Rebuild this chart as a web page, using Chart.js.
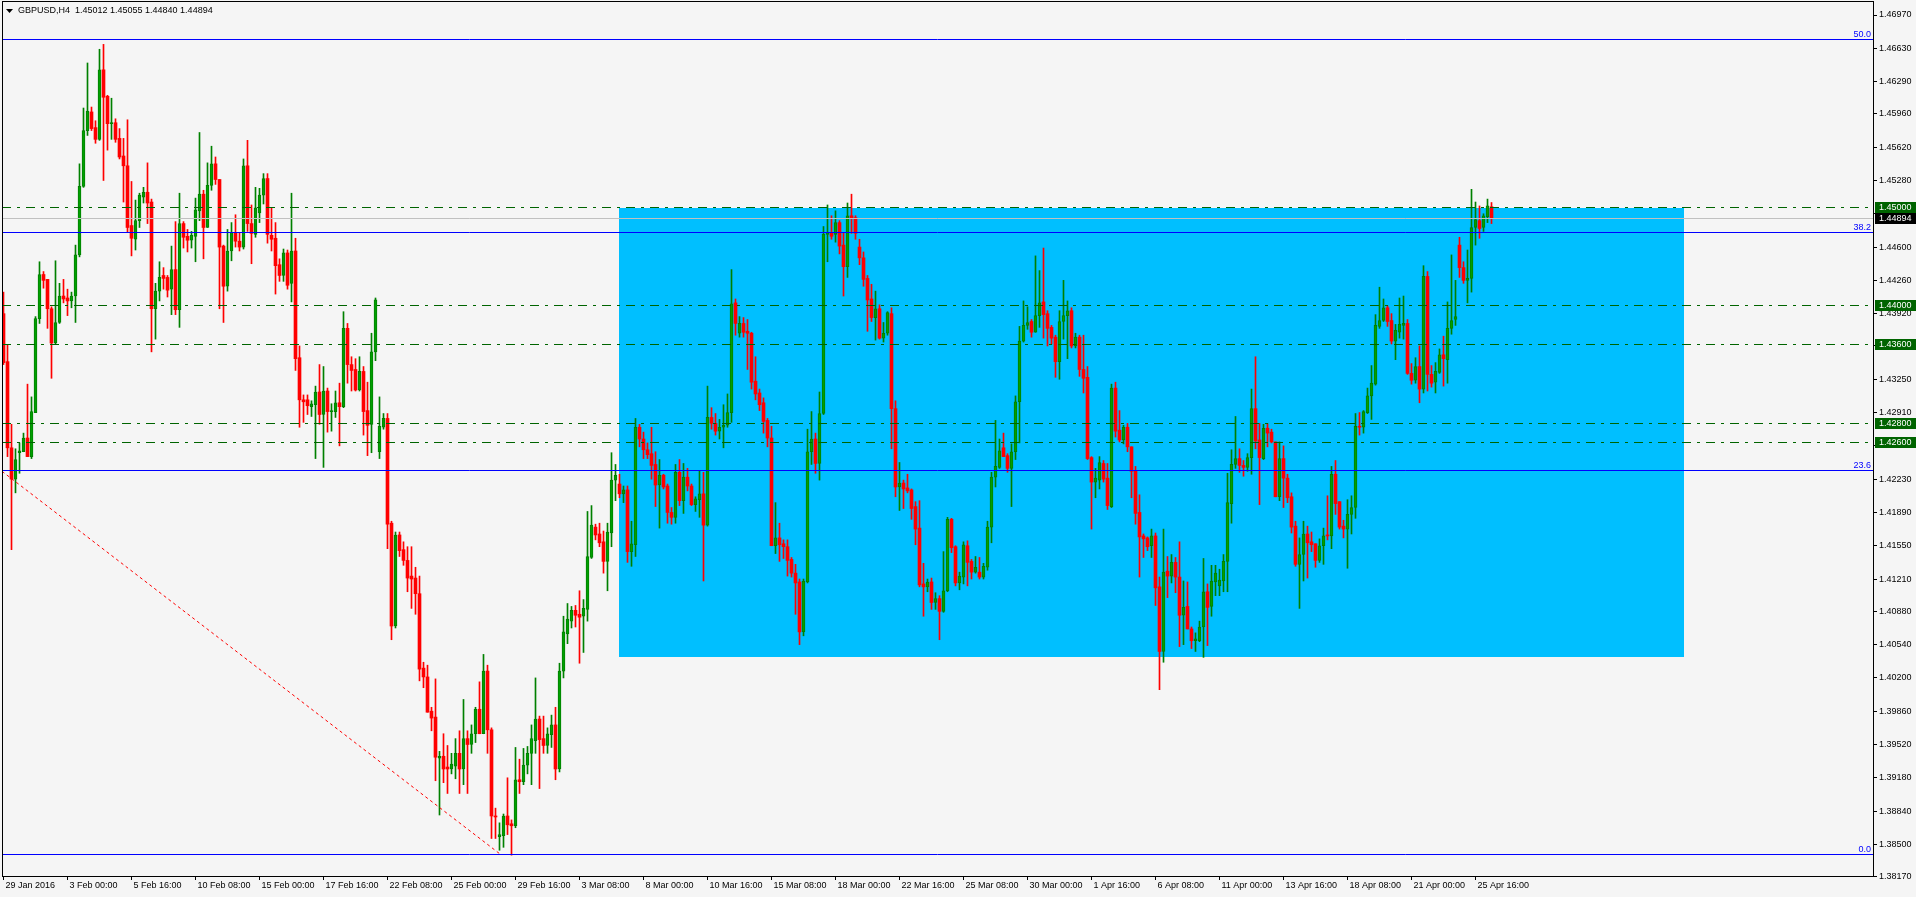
<!DOCTYPE html>
<html><head><meta charset="utf-8">
<script src="https://cdn.jsdelivr.net/npm/chart.js@4.4.1/dist/chart.umd.min.js"></script>
<style>html,body{margin:0;padding:0;background:#f5f5f5;overflow:hidden}canvas{display:block}</style>
</head><body>
<canvas id="c" width="1916" height="897" style="width:1916px;height:897px"></canvas>
<script>
const symbolTitle = 'GBPUSD,H4';
const opens = [
1.4392,1.4343,1.4255,1.4223,1.4250,1.4251,1.4265,1.4246,1.4291,1.4387,
1.4432,1.4427,1.4397,1.4362,1.4383,1.4410,1.4408,1.4405,1.4410,1.4452,
1.4522,1.4579,1.4598,1.4582,1.4570,1.4641,1.4614,1.4586,1.4587,1.4571,
1.4553,1.4543,1.4482,1.4468,1.4487,1.4511,1.4516,1.4506,1.4397,1.4415,
1.4431,1.4429,1.4417,1.4437,1.4396,1.4484,1.4471,1.4467,1.4471,1.4497,
1.4514,1.4480,1.4523,1.4545,1.4529,1.4461,1.4420,1.4456,1.4475,1.4466,
1.4460,1.4543,1.4484,1.4473,1.4495,1.4513,1.4530,1.4472,1.4469,1.4442,
1.4431,1.4454,1.4423,1.4456,1.4347,1.4304,1.4304,1.4297,1.4299,1.4312,
1.4289,1.4313,1.4292,1.4292,1.4301,1.4297,1.4377,1.4340,1.4335,1.4314,
1.4333,1.4293,1.4279,1.4353,1.4251,1.4276,1.4285,1.4178,1.4073,1.4166,
1.4151,1.4140,1.4124,1.4122,1.4106,1.4030,1.4021,1.3986,1.3980,1.3938,
1.3940,1.3929,1.3927,1.3930,1.3943,1.3927,1.3958,1.3952,1.3963,1.3988,
1.3963,1.4027,1.3967,1.3879,1.3858,1.3859,1.3879,1.3871,1.3869,1.3916,
1.3914,1.3931,1.3943,1.3956,1.3978,1.3958,1.3951,1.3962,1.3972,1.3927,
1.4027,1.4065,1.4078,1.4089,1.4085,1.4083,1.4090,1.4143,1.4174,1.4167,
1.4159,1.4139,1.4168,1.4222,1.4218,1.4208,1.4212,1.4149,1.4156,1.4276,
1.4264,1.4253,1.4249,1.4238,1.4217,1.4227,1.4216,1.4189,1.4184,1.4230,
1.4201,1.4225,1.4216,1.4197,1.4202,1.4208,1.4176,1.4286,1.4280,1.4272,
1.4276,1.4278,1.4291,1.4403,1.4372,1.4382,1.4374,1.4372,1.4323,1.4311,
1.4301,1.4283,1.4265,1.4155,1.4163,1.4157,1.4154,1.4141,1.4127,1.4118,
1.4067,1.4118,1.4251,1.4264,1.4239,1.4290,1.4473,1.4474,1.4473,1.4485,
1.4462,1.4440,1.4492,1.4490,1.4460,1.4449,1.4428,1.4407,1.4388,1.4397,
1.4367,1.4372,1.4392,1.4295,1.4215,1.4219,1.4214,1.4212,1.4195,1.4173,
1.4116,1.4113,1.4118,1.4097,1.4101,1.4088,1.4109,1.4182,1.4154,1.4117,
1.4123,1.4155,1.4139,1.4128,1.4128,1.4123,1.4133,1.4174,1.4225,1.4235,
1.4255,1.4247,1.4234,1.4251,1.4302,1.4364,1.4380,1.4384,1.4373,1.4390,
1.4404,1.4392,1.4378,1.4368,1.4343,1.4384,1.4390,1.4395,1.4359,1.4368,
1.4335,1.4327,1.4245,1.4220,1.4222,1.4239,1.4224,1.4195,1.4316,1.4273,
1.4263,1.4276,1.4256,1.4232,1.4189,1.4165,1.4163,1.4155,1.4165,1.4113,
1.4047,1.4129,1.4124,1.4138,1.4123,1.4084,1.4093,1.4070,1.4058,1.4058,
1.4072,1.4108,1.4093,1.4118,1.4114,1.4119,1.4139,1.4198,1.4238,1.4244,
1.4237,1.4235,1.4245,1.4295,1.4263,1.4244,1.4275,1.4271,1.4261,1.4205,
1.4244,1.4224,1.4205,1.4175,1.4136,1.4146,1.4167,1.4159,1.4157,1.4140,
1.4155,1.4166,1.4165,1.4228,1.4200,1.4175,1.4172,1.4187,1.4194,1.4277,
1.4276,1.4291,1.4308,1.4320,1.4379,1.4385,1.4398,1.4385,1.4364,1.4373,
1.4380,1.4382,1.4331,1.4324,1.4338,1.4315,1.4430,1.4330,1.4322,1.4332,
1.4350,1.4345,1.4377,1.4386,1.4462,1.4439,1.4426,1.4428,1.4480,1.4487,
1.4480,1.4491,1.45012];
const highs = [
1.4414,1.4360,1.4279,1.4254,1.4260,1.4270,1.4320,1.4307,1.4389,1.4445,
1.4435,1.4427,1.4399,1.4446,1.4423,1.4427,1.4417,1.4414,1.4462,1.4545,
1.4602,1.4648,1.4603,1.4589,1.4662,1.4667,1.4615,1.4612,1.4591,1.4581,
1.4571,1.4590,1.4527,1.4508,1.4515,1.4521,1.4546,1.4509,1.4423,1.4445,
1.4439,1.4431,1.4461,1.4486,1.4515,1.4486,1.4478,1.4476,1.4510,1.4577,
1.4518,1.4546,1.4563,1.4552,1.4529,1.4462,1.4478,1.4485,1.4493,1.4475,
1.4550,1.4569,1.4503,1.4521,1.4520,1.4535,1.4535,1.4500,1.4485,1.4448,
1.4458,1.4457,1.4515,1.4469,1.4359,1.4309,1.4309,1.4303,1.4318,1.4340,
1.4338,1.4316,1.4300,1.4313,1.4321,1.4394,1.4382,1.4348,1.4346,1.4348,
1.4338,1.4322,1.4372,1.4408,1.4307,1.4290,1.4290,1.4180,1.4169,1.4169,
1.4159,1.4154,1.4154,1.4133,1.4124,1.4036,1.4033,1.3990,1.4019,1.3945,
1.3963,1.3951,1.3943,1.3958,1.3966,1.3998,1.3966,1.3972,1.3990,1.4016,
1.4044,1.4033,1.3969,1.3887,1.3872,1.3881,1.3918,1.3875,1.3949,1.3937,
1.3948,1.3950,1.3972,1.4020,1.3981,1.3981,1.3969,1.3982,1.3990,1.4035,
1.4083,1.4096,1.4093,1.4094,1.4109,1.4100,1.4190,1.4196,1.4177,1.4178,
1.4170,1.4178,1.4250,1.4238,1.4228,1.4216,1.4216,1.4180,1.4285,1.4279,
1.4271,1.4260,1.4276,1.4251,1.4243,1.4228,1.4218,1.4194,1.4238,1.4243,
1.4239,1.4234,1.4218,1.4205,1.4232,1.4230,1.4318,1.4296,1.4290,1.4284,
1.4299,1.4310,1.4437,1.4407,1.4389,1.4388,1.4386,1.4373,1.4348,1.4315,
1.4306,1.4285,1.4277,1.4199,1.4178,1.4161,1.4161,1.4143,1.4136,1.4121,
1.4121,1.4274,1.4292,1.4270,1.4312,1.4481,1.4503,1.4492,1.4497,1.4487,
1.4474,1.4505,1.4514,1.4492,1.4468,1.4455,1.4431,1.4422,1.4415,1.4401,
1.4383,1.4394,1.4398,1.4303,1.4240,1.4222,1.4228,1.4213,1.4200,1.4201,
1.4137,1.4121,1.4122,1.4107,1.4104,1.4149,1.4184,1.4183,1.4155,1.4128,
1.4159,1.4160,1.4141,1.4144,1.4143,1.4137,1.4180,1.4230,1.4283,1.4264,
1.4270,1.4249,1.4259,1.4308,1.4379,1.4405,1.4399,1.4386,1.4451,1.4436,
1.4459,1.4395,1.4380,1.4370,1.4395,1.4426,1.4405,1.4398,1.4372,1.4370,
1.4370,1.4338,1.4246,1.4234,1.4246,1.4242,1.4239,1.4320,1.4322,1.4293,
1.4278,1.4280,1.4256,1.4236,1.4207,1.4167,1.4164,1.4172,1.4168,1.4123,
1.4172,1.4144,1.4146,1.4143,1.4159,1.4119,1.4118,1.4072,1.4066,1.4078,
1.4142,1.4116,1.4135,1.4135,1.4131,1.4146,1.4229,1.4253,1.4287,1.4254,
1.4242,1.4249,1.4315,1.4348,1.4280,1.4279,1.4280,1.4274,1.4261,1.4261,
1.4257,1.4228,1.4209,1.4180,1.4163,1.4180,1.4175,1.4169,1.4157,1.4162,
1.4173,1.4206,1.4236,1.4242,1.4200,1.4181,1.4202,1.4206,1.4290,1.4291,
1.4293,1.4316,1.4339,1.4391,1.4419,1.4407,1.4400,1.4392,1.4381,1.4408,
1.4410,1.4386,1.4341,1.4347,1.4359,1.4441,1.4435,1.4339,1.4342,1.4356,
1.4369,1.4404,1.4452,1.4426,1.4470,1.4445,1.4457,1.4519,1.4506,1.4502,
1.4494,1.4509,1.45055];
const lows = [
1.4340,1.4246,1.4151,1.4209,1.4229,1.4251,1.4246,1.4244,1.4291,1.4382,
1.4418,1.4377,1.4326,1.4361,1.4382,1.4403,1.4390,1.4398,1.4383,1.4450,
1.4521,1.4574,1.4579,1.4566,1.4569,1.4528,1.4559,1.4570,1.4567,1.4550,
1.4506,1.4475,1.4451,1.4457,1.4480,1.4505,1.4484,1.4353,1.4366,1.4405,
1.4417,1.4409,1.4391,1.4391,1.4378,1.4459,1.4455,1.4459,1.4445,1.4487,
1.4448,1.4480,1.4518,1.4524,1.4397,1.4383,1.4415,1.4446,1.4460,1.4456,
1.4458,1.4476,1.4443,1.4470,1.4485,1.4504,1.4464,1.4456,1.4412,1.4425,
1.4425,1.4417,1.4404,1.4334,1.4276,1.4281,1.4289,1.4287,1.4244,1.4279,
1.4235,1.4271,1.4272,1.4286,1.4257,1.4296,1.4321,1.4313,1.4313,1.4313,
1.4268,1.4247,1.4250,1.4344,1.4244,1.4274,1.4152,1.4059,1.4071,1.4144,
1.4135,1.4108,1.4091,1.4085,1.4017,1.4010,1.3985,1.3966,1.3915,1.3880,
1.3913,1.3902,1.3922,1.3917,1.3902,1.3911,1.3902,1.3943,1.3954,1.3963,
1.3963,1.3943,1.3856,1.3856,1.3844,1.3847,1.3860,1.3839,1.3867,1.3902,
1.3911,1.3922,1.3911,1.3943,1.3907,1.3943,1.3943,1.3949,1.3916,1.3924,
1.4020,1.4055,1.4071,1.4072,1.4035,1.4046,1.4078,1.4142,1.4161,1.4154,
1.4127,1.4109,1.4154,1.4201,1.4204,1.4199,1.4138,1.4134,1.4144,1.4256,
1.4244,1.4244,1.4223,1.4195,1.4173,1.4213,1.4178,1.4177,1.4178,1.4196,
1.4188,1.4211,1.4196,1.4190,1.4184,1.4119,1.4175,1.4274,1.4268,1.4264,
1.4255,1.4276,1.4281,1.4370,1.4368,1.4368,1.4335,1.4315,1.4304,1.4293,
1.4270,1.4256,1.4155,1.4147,1.4139,1.4142,1.4124,1.4123,1.4085,1.4054,
1.4063,1.4117,1.4238,1.4229,1.4222,1.4289,1.4445,1.4468,1.4465,1.4453,
1.4410,1.4429,1.4474,1.4468,1.4442,1.4420,1.4374,1.4384,1.4365,1.4366,
1.4363,1.4370,1.4254,1.4205,1.4191,1.4193,1.4209,1.4182,1.4156,1.4113,
1.4083,1.4108,1.4090,1.4090,1.4059,1.4087,1.4108,1.4148,1.4114,1.4110,
1.4116,1.4114,1.4121,1.4127,1.4121,1.4121,1.4130,1.4158,1.4215,1.4234,
1.4246,1.4230,1.4195,1.4243,1.4260,1.4363,1.4376,1.4368,1.4373,1.4378,
1.4367,1.4359,1.4361,1.4327,1.4325,1.4366,1.4346,1.4357,1.4357,1.4328,
1.4311,1.4243,1.4172,1.4204,1.4213,1.4220,1.4192,1.4194,1.4266,1.4261,
1.4259,1.4251,1.4204,1.4177,1.4123,1.4143,1.4150,1.4143,1.4094,1.4008,
1.4036,1.4102,1.4117,1.4107,1.4052,1.4054,1.4070,1.4050,1.4047,1.4057,
1.4041,1.4053,1.4083,1.4104,1.4104,1.4108,1.4108,1.4178,1.4234,1.4230,
1.4226,1.4231,1.4228,1.4254,1.4197,1.4243,1.4256,1.4260,1.4205,1.4201,
1.4194,1.4199,1.4168,1.4134,1.4091,1.4119,1.4122,1.4149,1.4133,1.4138,
1.4136,1.4161,1.4152,1.4187,1.4172,1.4163,1.4132,1.4167,1.4183,1.4268,
1.4270,1.4290,1.4284,1.4319,1.4377,1.4384,1.4379,1.4361,1.4345,1.4367,
1.4366,1.4330,1.4320,1.4321,1.4301,1.4311,1.4313,1.4317,1.4311,1.4331,
1.4318,1.4321,1.4371,1.4380,1.4429,1.4423,1.4403,1.4414,1.4462,1.4469,
1.4476,1.4485,1.44840];
const closes = [
1.4342,1.4255,1.4223,1.4243,1.4252,1.4265,1.4246,1.4292,1.4387,1.4432,
1.4426,1.4397,1.4362,1.4383,1.4410,1.4407,1.4405,1.4410,1.4452,1.4522,
1.4579,1.4599,1.4581,1.4570,1.4641,1.4613,1.4586,1.4587,1.4570,1.4552,
1.4543,1.4480,1.4469,1.4487,1.4513,1.4516,1.4505,1.4397,1.4415,1.4429,
1.4428,1.4416,1.4437,1.4396,1.4484,1.4470,1.4467,1.4472,1.4498,1.4514,
1.4480,1.4523,1.4545,1.4529,1.4460,1.4420,1.4456,1.4475,1.4466,1.4460,
1.4543,1.4484,1.4474,1.4500,1.4513,1.4530,1.4473,1.4468,1.4441,1.4431,
1.4454,1.4421,1.4456,1.4346,1.4304,1.4302,1.4298,1.4300,1.4312,1.4289,
1.4313,1.4292,1.4293,1.4301,1.4297,1.4377,1.4340,1.4334,1.4314,1.4333,
1.4292,1.4278,1.4353,1.4406,1.4277,1.4285,1.4177,1.4073,1.4166,1.4150,
1.4140,1.4122,1.4121,1.4106,1.4029,1.4021,1.3985,1.3979,1.3939,1.3940,
1.3927,1.3927,1.3932,1.3943,1.3927,1.3958,1.3952,1.3963,1.3988,1.3963,
1.4027,1.3967,1.3879,1.3878,1.3860,1.3879,1.3870,1.3869,1.3916,1.3914,
1.3931,1.3943,1.3958,1.3978,1.3957,1.3951,1.3963,1.3972,1.3927,1.4027,
1.4067,1.4080,1.4089,1.4084,1.4082,1.4091,1.4144,1.4176,1.4166,1.4158,
1.4139,1.4169,1.4222,1.4227,1.4208,1.4212,1.4149,1.4157,1.4276,1.4264,
1.4253,1.4248,1.4237,1.4217,1.4227,1.4215,1.4189,1.4184,1.4230,1.4201,
1.4225,1.4216,1.4197,1.4203,1.4208,1.4176,1.4286,1.4280,1.4272,1.4276,
1.4278,1.4291,1.4402,1.4382,1.4382,1.4373,1.4372,1.4322,1.4310,1.4299,
1.4282,1.4265,1.4155,1.4163,1.4156,1.4154,1.4140,1.4127,1.4117,1.4067,
1.4119,1.4251,1.4264,1.4239,1.4290,1.4473,1.4474,1.4471,1.4485,1.4461,
1.4440,1.4492,1.4489,1.4474,1.4449,1.4427,1.4406,1.4388,1.4397,1.4367,
1.4372,1.4393,1.4295,1.4215,1.4219,1.4213,1.4211,1.4193,1.4172,1.4115,
1.4113,1.4118,1.4097,1.4101,1.4088,1.4109,1.4182,1.4153,1.4117,1.4124,
1.4156,1.4138,1.4128,1.4133,1.4123,1.4134,1.4174,1.4225,1.4236,1.4252,
1.4246,1.4234,1.4251,1.4302,1.4364,1.4380,1.4383,1.4373,1.4390,1.4403,
1.4391,1.4377,1.4367,1.4343,1.4384,1.4390,1.4395,1.4359,1.4368,1.4335,
1.4326,1.4244,1.4220,1.4224,1.4240,1.4223,1.4196,1.4316,1.4272,1.4263,
1.4276,1.4256,1.4231,1.4188,1.4164,1.4162,1.4154,1.4165,1.4112,1.4047,
1.4128,1.4124,1.4138,1.4123,1.4084,1.4092,1.4070,1.4058,1.4060,1.4072,
1.4108,1.4092,1.4119,1.4127,1.4120,1.4139,1.4199,1.4238,1.4244,1.4237,
1.4235,1.4245,1.4295,1.4262,1.4245,1.4275,1.4270,1.4261,1.4205,1.4244,
1.4224,1.4204,1.4174,1.4136,1.4146,1.4167,1.4158,1.4156,1.4140,1.4155,
1.4165,1.4165,1.4228,1.4198,1.4174,1.4172,1.4187,1.4194,1.4277,1.4276,
1.4292,1.4308,1.4321,1.4380,1.4385,1.4398,1.4384,1.4364,1.4375,1.4381,
1.4382,1.4331,1.4324,1.4338,1.4315,1.4430,1.4330,1.4321,1.4333,1.4350,
1.4346,1.4377,1.4385,1.4389,1.4439,1.4426,1.4428,1.4480,1.4488,1.4479,
1.4492,1.4502,1.44894];

const xTickBars = [0,16,32,48,64,80,96,112,128,144,160,176,192,208,224,240,256,272,288,304,320,336,352,368];
const xTickLabels = ['29 Jan 2016','3 Feb 00:00','5 Feb 16:00','10 Feb 08:00','15 Feb 00:00','17 Feb 16:00',
  '22 Feb 08:00','25 Feb 00:00','29 Feb 16:00','3 Mar 08:00','8 Mar 00:00','10 Mar 16:00','15 Mar 08:00',
  '18 Mar 00:00','22 Mar 16:00','25 Mar 08:00','30 Mar 00:00','1 Apr 16:00','6 Apr 08:00','11 Apr 00:00',
  '13 Apr 16:00','18 Apr 08:00','21 Apr 00:00','25 Apr 16:00'];
const yTickValues = [1.38170,1.38500,1.38840,1.39180,1.39520,1.39860,1.40200,1.40540,1.40880,1.41210,
  1.41550,1.41890,1.42230,1.42570,1.42910,1.43250,1.43590,1.43920,1.44260,1.44600,1.44940,1.45280,
  1.45620,1.45960,1.46290,1.46630,1.46970];
const levelPrices = [1.45000,1.44000,1.43600,1.42800,1.42600];
const bidPrice = 1.44894;
const fibPrices = [1.46715,1.44751,1.42320,1.38392];
const fibLabels = ['50.0','38.2','23.6','0.0'];
const rectBars = [153.9,420.1];
const rectPrices = [1.4500,1.4041];
const trendBars = [-0.375,124.5];
const trendPrices = [1.4231,1.3839];

const FONT = '9px "Liberation Sans", Arial, sans-serif';
const BULL_LINE = '#008000', BULL_FILL = '#00a000', BEAR = '#ff0000';
const LEVEL_GREEN = '#006400';

const idx = opens.map((_, i) => i);
const bull = idx.map(i => closes[i] >= opens[i]);
const wickData = idx.map(i => ({x: i, y: [lows[i], highs[i]]}));
const bodyData = idx.map(i => ({x: i, y: [Math.min(opens[i], closes[i]), Math.max(opens[i], closes[i])]}));

const overlay = {
  id: 'overlay',
  beforeDraw(chart) {
    const c = chart.ctx;
    c.save(); c.fillStyle = '#f5f5f5'; c.fillRect(0, 0, chart.width, chart.height); c.restore();
  },
  beforeDatasetsDraw(chart) {
    const c = chart.ctx, xs = chart.scales.x, ys = chart.scales.y;
    const x0 = Math.round(xs.getPixelForValue(rectBars[0])), x1 = Math.round(xs.getPixelForValue(rectBars[1]));
    const y0 = Math.round(ys.getPixelForValue(rectPrices[0])), y1 = Math.round(ys.getPixelForValue(rectPrices[1]));
    c.save(); c.fillStyle = '#00bfff'; c.fillRect(x0, y0, x1 - x0, y1 - y0); c.restore();
  },
  afterDatasetsDraw(chart) {
    const c = chart.ctx, xs = chart.scales.x, ys = chart.scales.y, a = chart.chartArea;
    c.save();
    c.beginPath(); c.rect(a.left, a.top, a.right - a.left, a.bottom - a.top); c.clip();
    const hline = (p, color, dash) => {
      const yy = Math.floor(ys.getPixelForValue(p)) + 0.5;
      c.strokeStyle = color; c.lineWidth = 1; c.setLineDash(dash);
      c.beginPath(); c.moveTo(a.left, yy); c.lineTo(a.right, yy); c.stroke();
    };
    hline(bidPrice, '#c0c0c0', []);
    levelPrices.forEach(p => hline(p, LEVEL_GREEN, [9, 6, 3, 6]));
    fibPrices.forEach(p => hline(p, '#0000ff', []));
    c.strokeStyle = '#ff0000'; c.setLineDash([3, 3]); c.lineWidth = 1;
    c.beginPath();
    c.moveTo(xs.getPixelForValue(trendBars[0]), ys.getPixelForValue(trendPrices[0]));
    c.lineTo(xs.getPixelForValue(trendBars[1]), ys.getPixelForValue(trendPrices[1]));
    c.stroke();
    c.setLineDash([]);
    c.font = FONT; c.fillStyle = '#0000ff'; c.textAlign = 'right'; c.textBaseline = 'bottom';
    fibPrices.forEach((p, k) => {
      const yy = Math.floor(ys.getPixelForValue(p));
      c.fillText(fibLabels[k], a.right - 2, yy);
    });
    c.restore();
  },
  afterDraw(chart) {
    const c = chart.ctx, ys = chart.scales.y, a = chart.chartArea;
    c.save();
    c.strokeStyle = '#000'; c.lineWidth = 1;
    c.strokeRect(a.left + 0.5, a.top + 0.5, a.right - a.left, a.bottom - a.top);
    c.font = FONT; c.textAlign = 'left'; c.textBaseline = 'middle';
    const box = (p, bg) => {
      const yy = Math.floor(ys.getPixelForValue(p));
      c.fillStyle = bg; c.fillRect(a.right + 2, yy - 5, chart.width - a.right - 2, 11);
      c.fillStyle = '#ffffff'; c.fillText(p.toFixed(5), a.right + 6, yy + 1);
    };
    levelPrices.forEach(p => box(p, LEVEL_GREEN));
    box(bidPrice, '#000000');
    c.fillStyle = '#000';
    c.beginPath(); c.moveTo(6, 9); c.lineTo(13, 9); c.lineTo(9.5, 13); c.closePath(); c.fill();
    const n = opens.length - 1;
    c.fillText(symbolTitle + '  ' + [opens[n], highs[n], lows[n], closes[n]].map(v => v.toFixed(5)).join(' '), 18, 11);
    c.restore();
  }
};

const noPad = s => { s.paddingTop = 0; s.paddingBottom = 0; s.paddingLeft = 0; s.paddingRight = 0; };

new Chart(document.getElementById('c'), {
  type: 'bar',
  data: {
    datasets: [
      { label: 'body', data: bodyData, order: 2, grouped: false, barThickness: 3, minBarLength: 1,
        backgroundColor: idx.map(i => bull[i] ? BULL_FILL : BEAR),
        borderColor: idx.map(i => bull[i] ? BULL_LINE : BEAR),
        borderWidth: idx.map(i => bull[i] ? 1 : 0), borderSkipped: false },
      { label: 'wick', data: wickData, order: 3, grouped: false, barThickness: 1, minBarLength: 1,
        backgroundColor: idx.map(i => bull[i] ? BULL_LINE : BEAR), borderWidth: 0 }
    ]
  },
  options: {
    responsive: false, animation: false, maintainAspectRatio: false,
    layout: { padding: { left: 2, top: 1, right: 0, bottom: 0 } },
    plugins: { legend: { display: false }, tooltip: { enabled: false } },
    events: [],
    scales: {
      x: {
        type: 'linear', position: 'bottom', offset: false, min: -0.375, max: 467.375,
        afterBuildTicks: s => { s.ticks = xTickBars.map(v => ({ value: v })); },
        afterFit: s => { s.height = 21; noPad(s); },
        ticks: { autoSkip: false, maxRotation: 0, minRotation: 0, align: 'start', labelOffset: 2, padding: 0,
          color: '#000', font: { family: '"Liberation Sans", Arial, sans-serif', size: 9 },
          callback: (v, i) => xTickLabels[i] },
        grid: { offset: false, drawOnChartArea: false, drawTicks: true, tickLength: 4, color: '#000', lineWidth: 1 },
        border: { display: false }
      },
      y: {
        type: 'linear', position: 'right', min: 1.381771, max: 1.471130,
        afterBuildTicks: s => { s.ticks = yTickValues.map(v => ({ value: v })); },
        afterFit: s => { s.width = 43; noPad(s); },
        ticks: { autoSkip: false, padding: 2, color: '#000',
          font: { family: '"Liberation Sans", Arial, sans-serif', size: 9 },
          callback: v => Number(v).toFixed(5) },
        grid: { drawOnChartArea: false, drawTicks: true, tickLength: 4, color: '#000', lineWidth: 1 },
        border: { display: false }
      }
    }
  },
  plugins: [overlay]
});
</script>
</body></html>
